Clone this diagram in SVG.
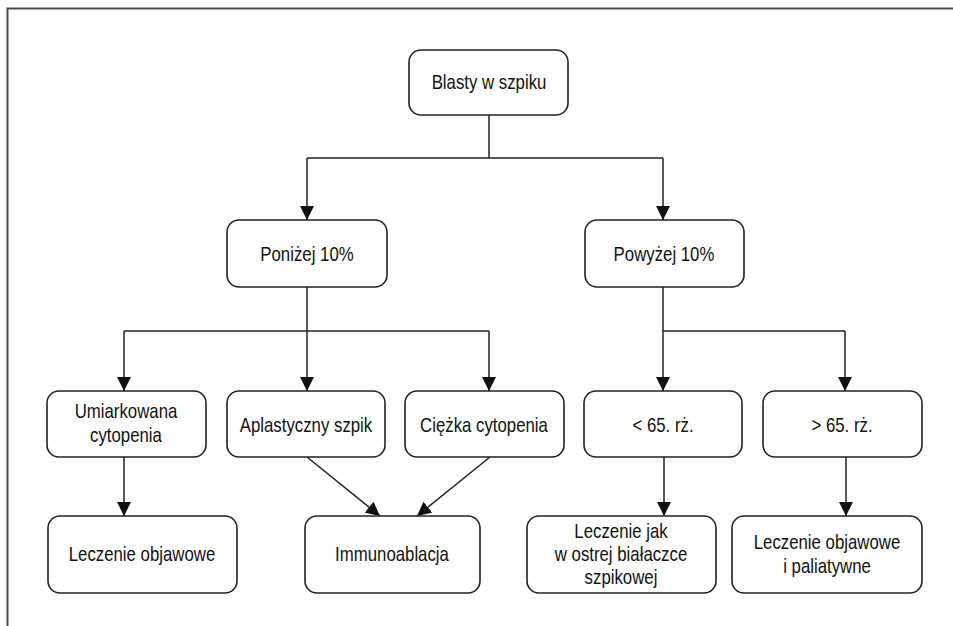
<svg xmlns="http://www.w3.org/2000/svg" width="953" height="626" viewBox="0 0 953 626">
<style>
.box{fill:#fff;stroke:#222;stroke-width:1.6}
.t{font-family:"Liberation Sans",Arial,sans-serif;font-size:20px;fill:#111;text-anchor:middle}
.c{fill:none;stroke:#222;stroke-width:1.5}
.frame{fill:none;stroke:#4a4a4a;stroke-width:2}
</style>
<defs>
<marker id="ah" viewBox="0 0 10 10" refX="10" refY="5" markerWidth="14" markerHeight="14" markerUnits="userSpaceOnUse" orient="auto">
<path d="M0,0 L10,5 L0,10 z" fill="#111"/>
</marker>
</defs>
<path class="frame" d="M953,8.5 H7.5 V626"/>
<g id="connectors">
<path class="c" d="M489,115 V158 M307,158 H663"/>
<path class="c" d="M307,158 V220" marker-end="url(#ah)"/>
<path class="c" d="M663,158 V220" marker-end="url(#ah)"/>
<path class="c" d="M307,287 V331 M124,331 H489"/>
<path class="c" d="M124,331 V391" marker-end="url(#ah)"/>
<path class="c" d="M307,331 V391" marker-end="url(#ah)"/>
<path class="c" d="M489,331 V391" marker-end="url(#ah)"/>
<path class="c" d="M663,287 V331 M663,331 H845"/>
<path class="c" d="M663,331 V391" marker-end="url(#ah)"/>
<path class="c" d="M845,331 V391" marker-end="url(#ah)"/>
<path class="c" d="M124,457 V516" marker-end="url(#ah)"/>
<path class="c" d="M307,457 L380,516" marker-end="url(#ah)"/>
<path class="c" d="M490,457 L417,516" marker-end="url(#ah)"/>
<path class="c" d="M664,457 V516" marker-end="url(#ah)"/>
<path class="c" d="M846,457 V516" marker-end="url(#ah)"/>
</g>
<g id="n-blasty"><rect class="box" x="409" y="50" width="159" height="65" rx="12"/><text class="t" transform="translate(489,89) scale(0.84,1)">Blasty w szpiku</text></g>
<g id="n-ponizej"><rect class="box" x="227" y="220" width="160" height="67" rx="12"/><text class="t" transform="translate(307,261) scale(0.84,1)">Poniżej 10%</text></g>
<g id="n-powyzej"><rect class="box" x="585" y="220" width="159" height="67" rx="12"/><text class="t" transform="translate(664,261) scale(0.84,1)">Powyżej 10%</text></g>
<g id="n-umiarkowana"><rect class="box" x="47" y="391" width="159" height="66" rx="12"/><text class="t" transform="translate(126,418) scale(0.84,1)">Umiarkowana</text><text class="t" transform="translate(126,442) scale(0.84,1)">cytopenia</text></g>
<g id="n-aplastyczny"><rect class="box" x="227" y="391" width="158" height="66" rx="12"/><text class="t" transform="translate(306,432) scale(0.84,1)">Aplastyczny szpik</text></g>
<g id="n-ciezka"><rect class="box" x="405" y="391" width="159" height="66" rx="12"/><text class="t" transform="translate(484,432) scale(0.84,1)">Ciężka cytopenia</text></g>
<g id="n-lt65"><rect class="box" x="584" y="391" width="158" height="66" rx="12"/><text class="t" transform="translate(663,432) scale(0.84,1)">&lt; 65. rż.</text></g>
<g id="n-gt65"><rect class="box" x="763" y="391" width="159" height="66" rx="12"/><text class="t" transform="translate(842,432) scale(0.84,1)">&gt; 65. rż.</text></g>
<g id="n-leczenie-objawowe"><rect class="box" x="48" y="516" width="189" height="77" rx="12"/><text class="t" transform="translate(142,561) scale(0.84,1)">Leczenie objawowe</text></g>
<g id="n-immunoablacja"><rect class="box" x="305" y="516" width="175" height="77" rx="12"/><text class="t" transform="translate(392,561) scale(0.84,1)">Immunoablacja</text></g>
<g id="n-leczenie-jak"><rect class="box" x="527" y="516" width="189" height="77" rx="12"/><text class="t" transform="translate(621,538) scale(0.84,1)">Leczenie jak</text><text class="t" transform="translate(621,561) scale(0.84,1)">w ostrej białaczce</text><text class="t" transform="translate(621,584) scale(0.84,1)">szpikowej</text></g>
<g id="n-paliatywne"><rect class="box" x="732" y="516" width="190" height="77" rx="12"/><text class="t" transform="translate(827,549) scale(0.84,1)">Leczenie objawowe</text><text class="t" transform="translate(827,573) scale(0.84,1)">i paliatywne</text></g>
</svg>
